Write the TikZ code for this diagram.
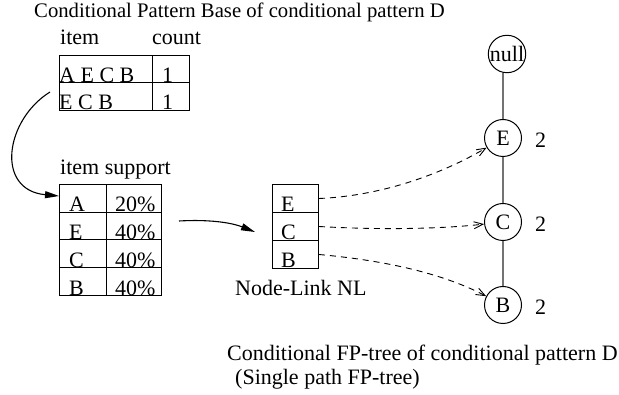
\documentclass[tikz,border=0pt]{standalone}
\usepackage{fontspec}
\setmainfont{Liberation Serif}
\usetikzlibrary{arrows.meta}
\begin{document}
\begin{tikzpicture}[x=1pt,y=-1pt,
  txt/.style={anchor=base west, inner sep=0pt, font=\fontsize{22}{26}\selectfont},
  cell/.style={draw, line width=1pt, inner sep=0pt, anchor=north west},
  treenode/.style={draw, circle, line width=1pt, minimum size=37pt, inner sep=0pt,
    font=\fontsize{22}{26}\selectfont},
  treeedge/.style={draw=gray!90!black, line width=1.2pt},
  solidarrow/.style={line width=1.1pt, -{Triangle[length=14pt,width=7pt]}},
  linkarrow/.style={line width=0.9pt, dash pattern=on 6pt off 5pt,
    -{Straight Barb[length=9pt,width=7pt]}}]
\useasboundingbox (0,0) rectangle (619,395);

% conditional pattern base
\node[txt, font=\fontsize{20.7}{25}\selectfont] (ttl) at (34,18) {Conditional Pattern Base of conditional pattern D};
\node[txt] (hitem) at (60,45) {item};
\node[txt] (hcount) at (152,45) {count};
\node[cell, minimum width=93pt, minimum height=27.5pt] (b11) at (59,55) {};
\node[cell, minimum width=37pt, minimum height=27.5pt] (b12) at (152,55) {};
\node[cell, minimum width=93pt, minimum height=27.5pt] (b21) at (59,82.5) {};
\node[cell, minimum width=37pt, minimum height=27.5pt] (b22) at (152,82.5) {};
\node[txt] (t11) at (59,83) {A E C B};
\node[txt] (t12) at (162,83) {1};
\node[txt] (t21) at (59,110) {E C B};
\node[txt] (t22) at (162,110) {1};

% item support table
\node[txt] (hsup) at (60,175) {item support};
\foreach \r/\it/\pc [count=\i from 0] in {1/A/20\%,2/E/40\%,3/C/40\%,4/B/40\%}{
  \node[cell, minimum width=47pt, minimum height=27.75pt] (s\r a) at (59,184+27.75*\i) {};
  \node[cell, minimum width=55pt, minimum height=27.75pt] (s\r b) at (106,184+27.75*\i) {};
  \node[txt] at (69,212+27.75*\i) {\it};
  \node[txt] at (115,212+27.75*\i) {\pc};
}

% node-link table
\foreach \r/\it [count=\i from 0] in {1/E,2/C,3/B}{
  \node[cell, minimum width=46pt, minimum height=28pt] (nl\r) at (272,184+28*\i) {};
  \node[txt] at (281,212+28*\i) {\it};
}
\node[txt] (nlcap) at (235,296) {Node-Link NL};

% single path FP-tree
\node[treenode] (null) at (507,54) {null};
\node[treenode] (E) at (503,138) {E};
\node[treenode] (C) at (503,222) {C};
\node[treenode] (B) at (503,305) {B};
\draw[treeedge] (E) -- (E |- null.south);
\draw[treeedge] (E) -- (C);
\draw[treeedge] (C) -- (B);
\node[txt] (nE) at (535,148) {2};
\node[txt] (nC) at (535,232) {2};
\node[txt] (nB) at (535,315) {2};

% connectors
\coordinate (c1s) at (50,92);
\coordinate (c2s) at (179,221);
\coordinate (c2e) at (255,232);
\draw[solidarrow] (c1s) .. controls (5,120) and (-5,190) .. (s1a.west |- 0,196);
\draw[solidarrow] (c2s) .. controls (215,219) and (235,224) .. (c2e);
\draw[linkarrow] (nl1.east) .. controls (380,196) and (440,175) .. (E);
\draw[linkarrow] (nl2.east) .. controls (380,230) and (440,229) .. (C);
\draw[linkarrow] (nl3.east) .. controls (380,260) and (440,272) .. (B);

% caption
\node[txt] (cap1) at (227,361) {Conditional FP-tree of conditional pattern D};
\node[txt] (cap2) at (235,385) {(Single path FP-tree)};
\end{tikzpicture}
\end{document}
